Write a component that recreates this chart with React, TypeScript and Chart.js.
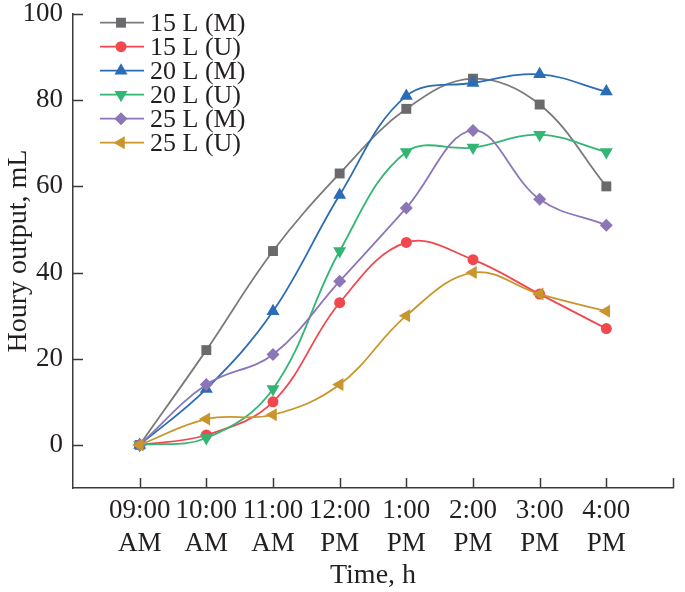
import React, { useEffect, useRef } from 'react';
import { Chart, registerables } from 'chart.js';

Chart.register(...registerables);

const timeTop = ['09:00', '10:00', '11:00', '12:00', '1:00', '2:00', '3:00', '4:00'];
const timeBottom = ['AM', 'AM', 'AM', 'PM', 'PM', 'PM', 'PM', 'PM'];
const yTickValues = [0, 20, 40, 60, 80, 100];

const seriesNames = ['15 L (M)', '15 L (U)', '20 L (M)', '20 L (U)', '25 L (M)', '25 L (U)'];
const v15M = [0, 22, 45, 63, 78, 85, 79, 60];
const v15U = [0, 2.3, 10, 33, 47, 43, 35, 27];
const v20M = [0, 13, 31, 58, 81, 84, 86, 82];
const v20U = [0, 1.6, 13, 45, 68, 69, 72, 68];
const v25M = [0, 14, 21, 38, 55, 73, 57, 51];
const v25U = [0, 6, 7, 14, 30, 40, 35, 31];

const seriesValues = [v15M, v15U, v20M, v20U, v25M, v25U];
const lineColors = ['#7a7a7c', '#f0484e', '#2b6cb6', '#33b674', '#8c76b8', '#c8962c'];
const markerColors = ['#6a6a6d', '#f0484e', '#2b6cb6', '#33b674', '#8c76b8', '#c8962c'];
const markerStyles = ['rect', 'circle', 'triangle', 'triangle', 'rectRot', 'triangle'];
const markerRotations = [0, 0, 0, 180, 0, -90];
const markerRadius = [7, 5.5, 7.5, 7.5, 6.5, 7.5];

const FONT = '"Liberation Serif", "Times New Roman", serif';
const TEXT = '#231f20';
const AXIS = '#3a3a3a';

function drawMarker(ctx: CanvasRenderingContext2D, style: string, rot: number, r: number, x: number, y: number, color: string) {
  ctx.save();
  ctx.fillStyle = color;
  ctx.beginPath();
  if (style === 'rect') {
    const s = Math.SQRT1_2 * r;
    ctx.rect(x - s, y - s, 2 * s, 2 * s);
  } else if (style === 'circle') {
    ctx.arc(x, y, r, 0, Math.PI * 2);
  } else if (style === 'rectRot') {
    ctx.moveTo(x, y - r);
    ctx.lineTo(x + r, y);
    ctx.lineTo(x, y + r);
    ctx.lineTo(x - r, y);
    ctx.closePath();
  } else {
    let a = (rot * Math.PI) / 180;
    ctx.moveTo(x + Math.sin(a) * r, y - Math.cos(a) * r);
    a += (2 * Math.PI) / 3;
    ctx.lineTo(x + Math.sin(a) * r, y - Math.cos(a) * r);
    a += (2 * Math.PI) / 3;
    ctx.lineTo(x + Math.sin(a) * r, y - Math.cos(a) * r);
    ctx.closePath();
  }
  ctx.fill();
  ctx.restore();
}

const decorPlugin = {
  id: 'decor',
  afterDraw(chart: any) {
    const ctx: CanvasRenderingContext2D = chart.ctx;
    const xs = chart.scales.x;
    const ys = chart.scales.y;
    const area = chart.chartArea;
    ctx.save();
    ctx.strokeStyle = AXIS;
    ctx.lineWidth = 1.5;
    ctx.beginPath();
    for (const v of yTickValues) {
      const py = Math.round(ys.getPixelForValue(v)) + 0.5;
      ctx.moveTo(area.left, py);
      ctx.lineTo(area.left + 10, py);
    }
    for (let i = 0; i <= timeTop.length; i++) {
      const px = Math.round(xs.getPixelForValue(i)) + 0.5;
      ctx.moveTo(px, area.bottom);
      ctx.lineTo(px, area.bottom - 10);
    }
    ctx.stroke();

    // legend
    const x0 = 100, x1 = 144, mx = 121, tx = 150;
    ctx.font = `26px ${FONT}`;
    ctx.textBaseline = 'middle';
    ctx.textAlign = 'left';
    seriesNames.forEach((name, i) => {
      const cy = 22.7 + 24 * i;
      ctx.strokeStyle = lineColors[i];
      ctx.lineWidth = 1.8;
      ctx.beginPath();
      ctx.moveTo(x0, cy);
      ctx.lineTo(x1, cy);
      ctx.stroke();
      drawMarker(ctx, markerStyles[i], markerRotations[i], markerRadius[i], mx, cy, markerColors[i]);
      ctx.fillStyle = TEXT;
      ctx.fillText(name, tx, cy + 1);
    });
    ctx.restore();
  },
};

export default function App() {
  const ref = useRef<HTMLCanvasElement>(null);
  useEffect(() => {
    if (!ref.current) return;
    const datasets = seriesNames.map((name, i) => ({
      label: name,
      data: seriesValues[i].map((v, j) => ({ x: j, y: v })),
      borderColor: lineColors[i],
      backgroundColor: markerColors[i],
      borderWidth: 1.8,
      pointStyle: markerStyles[i] as any,
      rotation: markerRotations[i],
      pointRadius: markerRadius[i],
      pointBorderWidth: 0,
      pointBackgroundColor: markerColors[i],
      tension: 0.38,
      fill: false,
      order: seriesNames.length - i,
    }));
    const chart = new Chart(ref.current, {
      type: 'line',
      data: { datasets },
      plugins: [decorPlugin],
      options: {
        animation: false,
        responsive: false,
        devicePixelRatio: 1,
        layout: { padding: { top: 0, right: 12, left: 0, bottom: 0 } },
        plugins: { legend: { display: false }, tooltip: { enabled: false } },
        scales: {
          x: {
            type: 'linear',
            min: -1,
            max: 8,
            afterBuildTicks: (s: any) => {
              s.ticks = [-1, 0, 1, 2, 3, 4, 5, 6, 7, 8].map((v) => ({ value: v }));
            },
            afterFit: (s: any) => {
              s.height = 104;
            },
            grid: { display: false, drawTicks: false },
            border: { display: true, color: AXIS, width: 1.5 },
            ticks: {
              autoSkip: false,
              maxRotation: 0,
              padding: 6,
              color: TEXT,
              font: { family: FONT, size: 27, lineHeight: 1.22 },
              callback: (v: any) => {
                const i = Number(v);
                if (i >= 0 && i < timeTop.length) return [timeTop[i], timeBottom[i]];
                return '';
              },
            },
            title: {
              display: true,
              text: 'Time, h',
              color: TEXT,
              font: { family: FONT, size: 28, lineHeight: 1.2 },
              padding: { top: 0, bottom: 0 },
            },
          },
          y: {
            type: 'linear',
            min: -10,
            max: 100,
            afterBuildTicks: (s: any) => {
              s.ticks = yTickValues.map((v) => ({ value: v }));
            },
            afterFit: (s: any) => {
              s.width = 73;
            },
            grid: { display: false, drawTicks: false },
            border: { display: true, color: AXIS, width: 1.5 },
            ticks: {
              padding: 10,
              color: TEXT,
              font: { family: FONT, size: 27, lineHeight: 0.3 },
            },
            title: {
              display: true,
              text: 'Houry output, mL',
              color: TEXT,
              font: { family: FONT, size: 28, lineHeight: 1.2 },
              padding: { top: 2, bottom: 0 },
            },
          },
        },
      },
    });
    return () => chart.destroy();
  }, []);
  return (
    <div style={{ position: 'absolute', left: 0, top: 0, width: 685, height: 592, background: '#fff' }}>
      <canvas ref={ref} width={685} height={592} style={{ width: 685, height: 592 }} />
    </div>
  );
}
